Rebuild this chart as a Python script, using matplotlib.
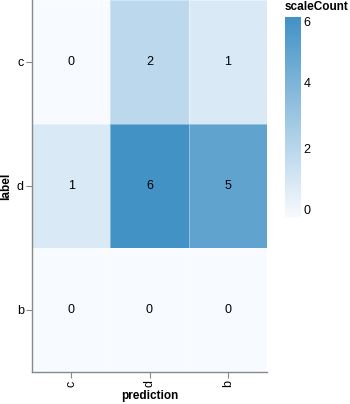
import matplotlib
matplotlib.use("Agg")
import matplotlib.pyplot as plt
import numpy as np
from matplotlib.colors import LinearSegmentedColormap, Normalize

plt.rcParams['font.family'] = ['Liberation Sans', 'DejaVu Sans']

# confusion counts: rows = true label, columns = prediction
predictions = ["c", "d", "b"]
labels = ["c", "d", "b"]
counts_c = [0, 2, 1]
counts_d = [1, 6, 5]
counts_b = [0, 0, 0]
legend_ticks = [0, 2, 4, 6]

matrix = np.array([counts_c, counts_d, counts_b], dtype=float)

cmap = LinearSegmentedColormap.from_list("count_blues", ["#f7fbff", "#4292c6"])
norm = Normalize(vmin=0, vmax=6)

W, H = 350, 404
fig = plt.figure(figsize=(W / 100, H / 100), dpi=100)
ax = fig.add_axes([32 / W, 32 / H, 235 / W, 372 / H])

ax.pcolormesh(np.arange(len(predictions) + 1), np.arange(len(labels) + 1),
              matrix, cmap=cmap, norm=norm,
              edgecolor=(1, 1, 1, 0.35), linewidth=0.6)
ax.set_xlim(0, len(predictions))
ax.set_ylim(len(labels), 0)

for i in range(len(labels)):
    for j in range(len(predictions)):
        ax.text(j + 0.5, i + 0.5, f"{int(matrix[i, j])}", ha="center",
                va="center", fontsize=9, color="black")

ax.set_xticks(np.arange(len(predictions)) + 0.5)
ax.set_xticklabels(predictions, rotation=90, fontsize=9)
ax.set_yticks(np.arange(len(labels)) + 0.5)
ax.set_yticklabels(labels, fontsize=9)
ax.tick_params(length=4, width=0.8, color="#888888", pad=2)
for side in ("top", "right"):
    ax.spines[side].set_visible(False)
for side in ("left", "bottom"):
    ax.spines[side].set_color("#888888")
    ax.spines[side].set_linewidth(1)

ax.set_xlabel("prediction", fontsize=8.5, fontweight="bold", labelpad=2)
ax.set_ylabel("label", fontsize=8.5, fontweight="bold", labelpad=3)

# gradient legend
cax = fig.add_axes([285 / W, (H - 217) / H, 16 / W, 200 / H])
grad = np.linspace(0, 6, 256).reshape(-1, 1)
cax.imshow(grad, aspect="auto", cmap=cmap, norm=norm, origin="lower",
           extent=[0, 1, 0, 6])
cax.set_xticks([])
cax.set_yticks([])
for s in cax.spines.values():
    s.set_visible(False)
for v in legend_ticks:
    va = "center"
    if v == legend_ticks[0]:
        va = "bottom"
    elif v == legend_ticks[-1]:
        va = "top"
    cax.text(1.15, v, str(v), ha="left", va=va, fontsize=9)
cax.set_xlim(0, 1)
cax.set_ylim(0, 6)
fig.text(285 / W, 1 - 7 / H, "scaleCount", fontsize=8.5, fontweight="bold",
         ha="left", va="center")

fig.savefig("out.png", dpi=100)
